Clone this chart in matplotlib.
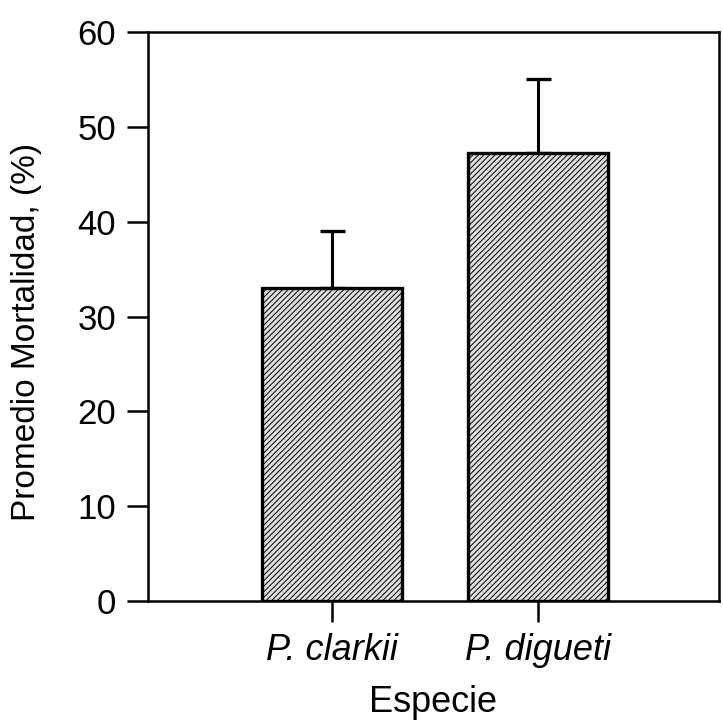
import numpy as np
import matplotlib.pyplot as plt

especies = ['P. clarkii', 'P. digueti']
mortalidad = [33.0, 47.2]
error_sup = [6.0, 7.8]

plt.rcParams['font.family'] = ['Liberation Sans', 'DejaVu Sans']
plt.rcParams['hatch.color'] = '#9a9a9a'
plt.rcParams['hatch.linewidth'] = 0.7

fig = plt.figure(figsize=(7.23, 7.24), dpi=100)
ax = fig.add_axes([148/723, 1 - 601/724, (719-148)/723, (601-32)/724])

x = np.arange(1, len(especies) + 1)
ax.bar(x, mortalidad, width=0.68, color='#dedede', edgecolor='black',
       linewidth=2.4, hatch='//////', zorder=2)
ax.errorbar(x, mortalidad, yerr=[np.zeros(len(x)), error_sup], fmt='none',
            ecolor='black', elinewidth=2.2, capsize=9, capthick=2.4, zorder=1)

ax.set_xlim(0.107, 2.879)
ax.set_ylim(0, 60)
ax.set_yticks([0, 10, 20, 30, 40, 50, 60])
ax.set_xticks(x)
ax.set_xticklabels(especies, style='italic', fontsize=26)
ax.tick_params(axis='both', direction='out', length=15, width=1.8, pad=8)
ax.tick_params(axis='y', labelsize=25)
for s in ax.spines.values():
    s.set_linewidth(1.8)

ax.set_ylabel('Promedio Mortalidad, (%)', fontsize=24)
ax.yaxis.set_label_coords(-0.186, 0.473)
ax.set_xlabel('Especie', fontsize=26, labelpad=12)

fig.savefig('out.png', dpi=100)
